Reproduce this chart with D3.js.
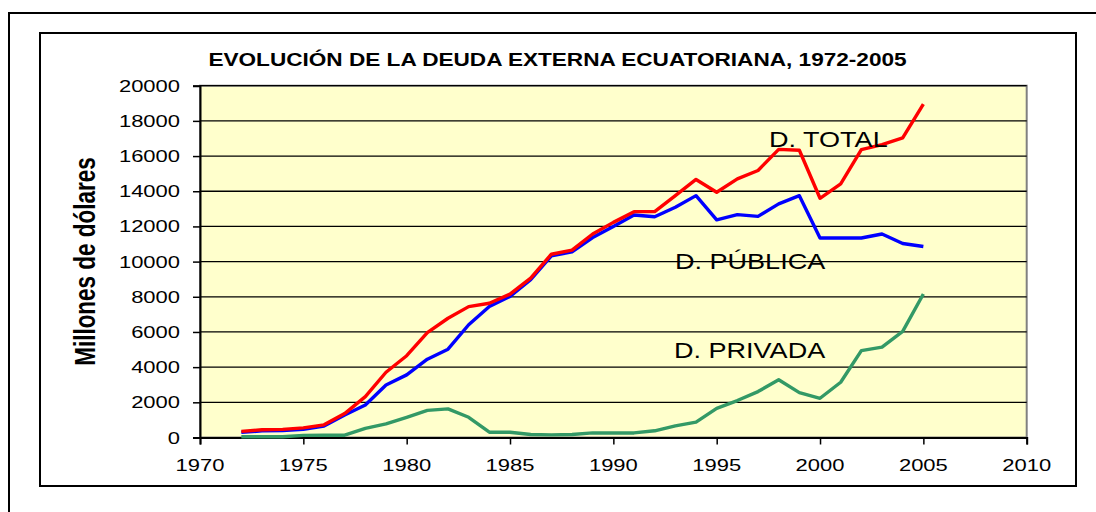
<!DOCTYPE html>
<html><head><meta charset="utf-8">
<script src="https://cdn.jsdelivr.net/npm/d3@7"></script>
<style>html,body{margin:0;padding:0;background:#fff;}svg{display:block;}</style>
</head><body>
<svg id="c" width="1096" height="512"></svg>
<script>
const years = d3.range(1972, 2006);
const total = [350,440,460,550,720,1360,2320,3710,4650,5960,6780,7440,7630,8150,9060,10420,10650,11570,12230,12840,12840,13750,14670,13940,14700,15180,16380,16330,13600,14420,16370,16650,17030,18950];
const publica = [290,380,400,460,650,1280,1850,2990,3560,4450,5020,6410,7450,8020,8970,10330,10550,11370,12000,12650,12550,13090,13750,12370,12670,12570,13280,13750,11340,11340,11340,11570,11030,10860];
const privada = [40,40,40,120,130,130,520,770,1150,1540,1630,1150,300,300,170,150,170,260,260,260,380,660,870,1660,2100,2610,3280,2550,2230,3140,4940,5140,6030,8160];
const xTicks = [1970,1975,1980,1985,1990,1995,2000,2005,2010];
const yTicks = [0,2000,4000,6000,8000,10000,12000,14000,16000,18000,20000];
const titleText = "EVOLUCIÓN DE LA DEUDA EXTERNA ECUATORIANA, 1972-2005";
const yTitle = "Millones de dólares";
const seriesNames = ["D. TOTAL","D. PÚBLICA","D. PRIVADA"];

const SX = 1.27;
const FONT = "'Liberation Sans', Arial, sans-serif";
const svg = d3.select("#c");

// outer & inner frames
svg.append("path").attr("d","M9,512 V13 H1096").attr("fill","none").attr("stroke","#000").attr("stroke-width",2);
svg.append("rect").attr("x",40).attr("y",33).attr("width",1036).attr("height",453).attr("fill","#fff").attr("stroke","#000").attr("stroke-width",2);

const x = d3.scaleLinear().domain([1970,2010]).range([200,1026.7]);
const y = d3.scaleLinear().domain([0,20000]).range([437.5,85.7]);

// plot background
svg.append("rect").attr("x",x(1970)).attr("y",y(20000)).attr("width",x(2010)-x(1970)).attr("height",y(0)-y(20000))
  .attr("fill","#FFFFCC").attr("stroke","#808080").attr("stroke-width",2);

// gridlines
svg.append("g").selectAll("line").data(yTicks.filter(d=>d>0)).join("line")
  .attr("x1",x(1970)).attr("x2",x(2010)).attr("y1",d=>y(d)).attr("y2",d=>y(d))
  .attr("stroke","#000").attr("stroke-width",1.3);

function stext(parent, tx, ty, str, opts) {
  const g = parent.append("g").attr("transform",`translate(${tx},${ty})`);
  const t = g.append("text").text(str)
    .attr("font-family",FONT).attr("font-size",opts.size).attr("font-weight",opts.weight||"normal")
    .attr("text-anchor",opts.anchor||"start").attr("fill","#000");
  if (opts.rotate) g.attr("transform",`translate(${tx},${ty}) scale(${SX},1) rotate(-90)`);
  else t.attr("transform",`scale(${SX},1)`);
  return t;
}

// axes
const yAxis = d3.axisLeft(y).tickValues(yTicks).tickSize(7).tickFormat("");
const ga = svg.append("g").attr("transform",`translate(${x(1970)},0)`).call(yAxis);
ga.select(".domain").attr("stroke","#000").attr("stroke-width",2);
ga.selectAll(".tick line").attr("stroke","#000").attr("stroke-width",1.5);
const xAxis = d3.axisBottom(x).tickValues(xTicks).tickSize(7).tickFormat("");
const gx = svg.append("g").attr("transform",`translate(0,${y(0)})`).call(xAxis);
gx.select(".domain").attr("stroke","#000").attr("stroke-width",2);
gx.selectAll(".tick line").attr("stroke","#000").attr("stroke-width",1.5);

yTicks.forEach(v => stext(svg, 180, y(v)+6, String(v), {size:17.3, anchor:"end"}));
xTicks.forEach(v => stext(svg, x(v), 471, String(v), {size:17.3, anchor:"middle"}));

// lines
const line = d3.line().x((d,i)=>x(years[i])).y(d=>y(d));
const series = [[privada,"#339966"],[publica,"#0000FF"],[total,"#FF0000"]];
series.forEach(([vals,col]) => {
  svg.append("path").datum(vals).attr("d",line).attr("fill","none").attr("stroke",col)
    .attr("stroke-width",3.4).attr("stroke-linejoin","round");
});

// titles & labels
stext(svg, 557.5, 66, titleText, {size:17.8, weight:"bold", anchor:"middle"});
stext(svg, 95, 261.5, yTitle, {size:22.5, weight:"bold", anchor:"middle", rotate:true});
stext(svg, 769, 147, seriesNames[0], {size:21.3});
stext(svg, 675, 268.5, seriesNames[1], {size:21.3});
stext(svg, 674, 357.5, seriesNames[2], {size:21.3});
</script>
</body></html>
